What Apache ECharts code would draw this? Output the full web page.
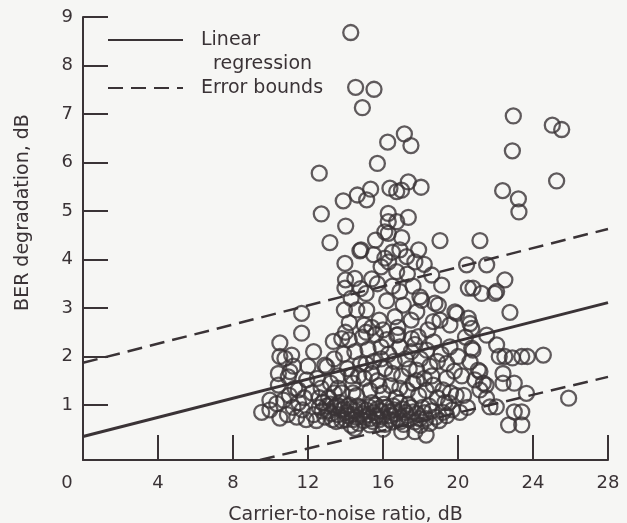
<!DOCTYPE html>
<html>
<head>
<meta charset="utf-8">
<script src="https://cdn.jsdelivr.net/npm/echarts@6/dist/echarts.min.js"></script>
<style>
  html, body { margin: 0; padding: 0; background: #f6f6f4; }
  #chart { width: 627px; height: 523px; }
</style>
</head>
<body>
<div id="chart"></div>
<script>
// tick labels
var xTicks = [0, 4, 8, 12, 16, 20, 24, 28]
var yTicks = [1, 2, 3, 4, 5, 6, 7, 8, 9]

// line end points
var regressionLine = [[0, 0.35], [28, 3.11]]
var upperBound = [[0, 1.87], [28, 4.63]]
var lowerBound = [[9.44, -0.134], [28, 1.58]]

// measurements [C/N dB, BER degradation dB]
var sparseHigh = [
  [14.28, 8.68], [14.54, 7.55], [15.52, 7.51], [14.90, 7.13], [22.95, 6.96], [25.03, 6.77],
  [25.53, 6.68], [22.90, 6.24], [25.26, 5.62], [22.38, 5.42], [23.22, 5.25], [23.25, 4.98],
  [17.14, 6.59], [16.25, 6.42], [17.49, 6.35], [15.70, 5.98], [12.60, 5.78], [13.88, 5.21],
  [14.63, 5.33], [15.13, 5.23], [15.34, 5.45], [16.37, 5.47], [16.73, 5.40], [16.99, 5.43],
  [17.35, 5.60], [18.03, 5.49], [12.71, 4.94], [14.01, 4.69], [16.28, 4.95], [16.28, 4.78],
  [16.73, 4.78], [16.28, 4.54], [17.35, 4.87], [13.17, 4.35], [14.77, 4.18], [19.04, 4.39],
  [21.17, 4.39]
]
var coreHigh = [
  [16.1, 4.57], [16.1, 4.03], [14.83, 4.20], [13.97, 3.92], [14.0, 3.58], [14.5, 3.61],
  [13.97, 3.41], [13.94, 2.96], [14.6, 2.96], [15.13, 2.96], [16.9, 4.2], [17.9, 4.2],
  [17.26, 4.06], [16.73, 3.75], [16.9, 3.34], [17.08, 3.06], [16.64, 2.82], [18.6, 3.68],
  [19.13, 3.47], [18.06, 3.16], [18.95, 3.06], [17.8, 2.92], [18.68, 2.72], [19.84, 2.92],
  [17.97, 3.23], [18.77, 3.10], [19.04, 2.75], [19.93, 2.89], [20.64, 2.68], [20.55, 2.79],
  [20.73, 2.58], [19.57, 2.65], [15.5, 4.1], [15.9, 3.85], [15.4, 3.6], [15.1, 3.3],
  [15.7, 3.5], [16.3, 3.95], [16.5, 3.45], [16.2, 3.15], [15.8, 2.75], [15.4, 2.6],
  [14.3, 3.2], [14.8, 3.4], [14.2, 2.7], [15.0, 2.65], [16.0, 2.55], [16.8, 2.6],
  [17.5, 2.75], [17.6, 3.45], [17.3, 3.7], [18.2, 3.9], [17.7, 3.95], [16.5, 4.15],
  [15.6, 4.4], [17.0, 4.45], [18.4, 2.55]
]
var coreMid = [
  [13.35, 2.31], [13.0, 1.79], [11.93, 1.52], [12.9, 1.82], [11.13, 2.03], [11.04, 1.69],
  [11.48, 1.31], [13.8, 2.37], [17.88, 2.41], [18.33, 2.13], [17.8, 1.72], [18.68, 1.41],
  [19.2, 1.31], [19.57, 2.20], [19.4, 1.86], [19.4, 1.55], [16.73, 2.44], [17.53, 2.37],
  [12.2, 1.25], [12.5, 1.55], [12.3, 2.1], [12.7, 1.35], [13.2, 1.45], [13.4, 1.95],
  [13.6, 1.6], [13.8, 1.25], [13.9, 2.05], [14.1, 1.75], [14.2, 2.35], [14.4, 1.45],
  [14.5, 2.1], [14.6, 1.2], [14.8, 1.85], [14.9, 2.4], [15.0, 1.55], [15.2, 2.15],
  [15.3, 1.3], [15.5, 1.9], [15.6, 2.45], [15.7, 1.5], [15.9, 2.2], [16.0, 1.25],
  [16.1, 1.75], [16.3, 2.05], [16.4, 1.4], [16.6, 1.9], [16.7, 1.15], [16.9, 2.2],
  [17.0, 1.6], [17.2, 1.95], [17.3, 1.3], [17.5, 2.1], [17.6, 1.45], [17.9, 1.2],
  [18.0, 1.95], [18.2, 1.55], [18.5, 1.8], [18.7, 2.3], [18.9, 1.15], [19.1, 2.05],
  [19.6, 1.25], [19.8, 1.7], [12.0, 1.8], [14.0, 2.5], [15.1, 2.5], [16.2, 2.35],
  [13.1, 1.15], [11.8, 1.15], [13.6, 1.35], [14.3, 1.6], [14.7, 1.6], [15.1, 1.85],
  [15.4, 1.65], [15.8, 1.4], [16.5, 1.65], [16.9, 1.35], [17.4, 1.75], [17.8, 1.5],
  [18.3, 1.3], [18.6, 1.6], [14.4, 1.25], [15.9, 1.95], [16.8, 2.45], [17.7, 2.25],
  [18.9, 1.9], [19.3, 1.05], [12.6, 1.15], [13.4, 1.25]
]
var coreLow = [
  [14.5, 0.52], [15.3, 0.59], [18.3, 0.38], [17.7, 0.45], [12.3, 0.8], [12.6, 0.95],
  [12.9, 0.75], [13.1, 0.88], [13.3, 0.7], [13.4, 0.95], [13.6, 0.8], [13.8, 0.68],
  [13.9, 0.92], [14.1, 0.78], [14.2, 1.0], [14.4, 0.7], [14.5, 0.88], [14.7, 0.62],
  [14.8, 0.95], [15.0, 0.75], [15.1, 0.9], [15.3, 0.72], [15.5, 0.85], [15.6, 1.0],
  [15.8, 0.7], [15.9, 0.88], [16.1, 0.6], [16.2, 0.95], [16.4, 0.78], [16.5, 0.65],
  [16.6, 0.9], [16.8, 0.72], [16.9, 1.05], [17.1, 0.6], [17.2, 0.85], [17.4, 0.7],
  [17.5, 0.95], [17.7, 0.65], [17.8, 0.82], [18.0, 0.58], [18.1, 0.95], [18.3, 0.72],
  [18.5, 0.62], [18.6, 0.88], [18.8, 0.75], [19.0, 0.68], [19.2, 0.85], [19.4, 0.78],
  [19.7, 0.9], [14.3, 0.58], [16.0, 0.5], [17.0, 0.45], [15.4, 1.05], [13.7, 1.05],
  [12.8, 1.05], [13.0, 0.98], [13.25, 0.82], [13.5, 0.66], [13.55, 1.0], [13.75, 0.9],
  [14.0, 0.7], [14.05, 0.85], [14.25, 0.92], [14.35, 0.8], [14.6, 0.75], [14.65, 0.98],
  [14.9, 0.82], [14.95, 0.68], [15.2, 0.8], [15.25, 0.96], [15.45, 0.66], [15.65, 0.78],
  [15.7, 0.92], [15.95, 0.76], [16.05, 1.02], [16.3, 0.86], [16.35, 0.7], [16.55, 0.98],
  [16.7, 0.82], [16.95, 0.66], [17.05, 0.92], [17.3, 0.78], [17.35, 1.02], [17.6, 0.86],
  [17.95, 0.72], [18.2, 0.84], [18.45, 0.98], [12.45, 0.68], [12.75, 0.88], [13.2, 1.02],
  [19.5, 1.05], [19.9, 1.2], [20.1, 0.85]
]
var leftCluster = [
  [9.53, 0.85], [9.97, 0.9], [10.33, 1.03], [10.5, 0.73], [9.97, 1.1], [10.42, 1.41],
  [10.42, 1.65], [10.5, 2.0], [10.5, 2.28], [10.77, 1.96], [11.22, 1.80], [10.95, 1.58],
  [11.66, 2.89], [11.66, 2.48], [10.9, 0.8], [11.2, 0.95], [11.0, 1.2], [11.5, 1.05],
  [11.4, 0.75], [11.7, 0.9], [11.9, 0.7], [10.7, 1.1], [11.3, 1.35]
]
var rightCluster = [
  [20.73, 2.17], [20.64, 1.89], [21.08, 1.72], [20.9, 1.52], [21.35, 1.45], [21.52, 1.14],
  [21.17, 1.31], [21.7, 0.96], [21.53, 2.44], [22.06, 3.34], [22.5, 3.58], [22.77, 2.91],
  [20.8, 3.41], [21.26, 3.30], [21.97, 3.30], [20.46, 3.89], [21.53, 3.89], [20.55, 3.41],
  [24.55, 2.03], [23.7, 2.0], [23.4, 2.0], [22.9, 1.97], [22.5, 2.0], [22.4, 1.65],
  [23.0, 1.45], [23.65, 1.24], [25.9, 1.14], [22.04, 0.96], [23.0, 0.86], [23.4, 0.86],
  [22.7, 0.59], [23.4, 0.59], [22.06, 2.24], [22.2, 2.0], [20.8, 2.13], [21.17, 1.69],
  [21.5, 1.41], [20.3, 1.2], [20.5, 0.95], [20.2, 1.6], [20.4, 2.4], [20.0, 2.0],
  [22.4, 1.45]
]

var ink = '#3a3336'
var font = 'DejaVu Sans'
var points = [].concat(sparseHigh, coreHigh, coreMid, coreLow, leftCluster, rightCluster)
// leading empty line keeps the sample line level with "Linear"
var regressionName = '\nLinear\n  regression'

var chart = echarts.init(document.getElementById('chart'))
chart.setOption({
  backgroundColor: '#f6f6f4',
  animation: false,
  grid: { left: 83, right: 19, top: 17, bottom: 63, outerBoundsMode: 'none' },
  legend: {
    left: 107, top: 4, orient: 'vertical', padding: 0,
    itemWidth: 75, itemHeight: 14, itemGap: 0,
    itemStyle: { opacity: 0 },
    data: [
      { name: regressionName, textStyle: { padding: [0, 0, 0, 13] } },
      { name: 'Error bounds', textStyle: { padding: [0, 0, 0, 13] } }
    ],
    textStyle: { fontFamily: font, fontSize: 19, color: ink, lineHeight: 24 },
    selectedMode: false
  },
  xAxis: {
    type: 'value', min: 0, max: 28,
    name: 'Carrier-to-noise ratio, dB', nameLocation: 'middle', nameGap: 46,
    nameTextStyle: { fontFamily: font, fontSize: 19, color: ink },
    splitLine: { show: false },
    axisLine: { onZero: false, lineStyle: { color: ink, width: 2 } },
    axisTick: { inside: true, length: 25, customValues: xTicks.slice(1), lineStyle: { color: ink, width: 2 } },
    axisLabel: {
      customValues: xTicks, margin: 14, fontFamily: font, fontSize: 18, color: ink,
      formatter: function (v) { return v === 0 ? '{z|0}' : String(v) },
      rich: { z: { fontFamily: font, fontSize: 18, color: ink, padding: [0, 32, 0, 0] } }
    }
  },
  yAxis: {
    type: 'value', min: -0.134, max: 9,
    name: 'BER degradation, dB', nameLocation: 'middle', nameGap: 50,
    nameTextStyle: { fontFamily: font, fontSize: 19, color: ink, padding: [0, 0, 0, 52] },
    splitLine: { show: false },
    axisLine: { onZero: false, lineStyle: { color: ink, width: 2 } },
    axisTick: { inside: true, length: 25, customValues: yTicks, lineStyle: { color: ink, width: 2 } },
    axisLabel: { customValues: yTicks, margin: 10, fontFamily: font, fontSize: 18, color: ink }
  },
  series: [
    {
      name: regressionName, type: 'line', data: regressionLine, symbol: 'none',
      lineStyle: { color: ink, width: 3 }, z: 3
    },
    {
      name: 'Error bounds', type: 'line', data: upperBound, symbol: 'none',
      lineStyle: { color: ink, width: 2.5, type: [15, 8] }, z: 3
    },
    {
      name: 'Error bounds', type: 'line', data: lowerBound, symbol: 'none',
      lineStyle: { color: ink, width: 2.5, type: [15, 8] }, z: 3
    },
    {
      name: 'data', type: 'scatter', data: points, symbol: 'circle', symbolSize: 15,
      itemStyle: { color: 'rgba(0,0,0,0)', borderColor: ink, borderWidth: 2.3 }, z: 4
    }
  ]
})
</script>
</body>
</html>
